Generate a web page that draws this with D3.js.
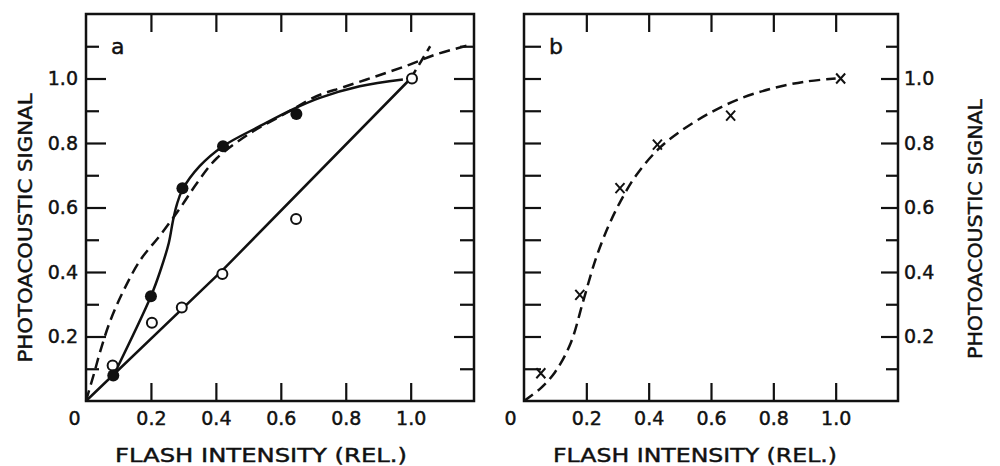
<!DOCTYPE html>
<html>
<head>
<meta charset="utf-8">
<script src="https://cdn.jsdelivr.net/npm/d3@7"></script>
<style>
  body { margin: 0; background: #fff; }
  svg text { font-family: "DejaVu Sans", sans-serif; fill: #111; stroke: #111; stroke-width: 0.45px; }
</style>
</head>
<body>
<div id="chart"></div>
<script>
// panel a - measured points
const filledX = [0.084, 0.2, 0.297, 0.422, 0.648];
const filledY = [0.079, 0.325, 0.66, 0.79, 0.89];
const openX = [0.082, 0.203, 0.295, 0.42, 0.647, 1.004];
const openY = [0.11, 0.243, 0.29, 0.394, 0.564, 1.0];

// panel a - hand drawn curves
const solidCurveA = [[0.085, 0.08], [0.2, 0.325], [0.23, 0.407], [0.255, 0.49], [0.268, 0.56],
    [0.28, 0.61], [0.297, 0.655], [0.35, 0.728], [0.422, 0.79], [0.535, 0.852], [0.638, 0.905],
    [0.72, 0.94], [0.843, 0.976], [0.976, 0.997]];
const straightLineA = [[0, 0], [0.42, 0.405], [1.0, 1.0]];
const straightExtA = [[1.0, 1.0], [1.06, 1.1]];
const dashedCurveA = [[0, 0], [0.025, 0.086], [0.045, 0.158], [0.076, 0.252], [0.117, 0.345],
    [0.168, 0.438], [0.23, 0.516], [0.291, 0.6], [0.342, 0.676], [0.402, 0.752], [0.505, 0.83],
    [0.617, 0.893], [0.71, 0.945], [0.792, 0.973], [0.894, 1.007], [0.997, 1.043], [1.079, 1.075],
    [1.19, 1.106]];

// panel b
const crossX = [0.054, 0.179, 0.308, 0.428, 0.663, 1.016];
const crossY = [0.086, 0.329, 0.66, 0.795, 0.885, 1.0];
const dashedCurveB = [[0, 0], [0.054, 0.04], [0.1, 0.09], [0.15, 0.18], [0.19, 0.31], [0.23, 0.44],
    [0.27, 0.54], [0.31, 0.62], [0.36, 0.7], [0.43, 0.78], [0.5, 0.835], [0.6, 0.895],
    [0.7, 0.94], [0.8, 0.97], [0.9, 0.99], [1.0, 1.0]];

// ticks
const xMajor = [0.2, 0.4, 0.6, 0.8, 1.0];
const xLabels = [0, 0.2, 0.4, 0.6, 0.8, 1.0];
const yMajor = [0.2, 0.4, 0.6, 0.8, 1.0];
const yMinor = [0.1, 0.3, 0.5, 0.7, 0.9, 1.1];

const xTitle = "FLASH INTENSITY (REL.)";
const yTitle = "PHOTOACOUSTIC SIGNAL";

const width = 1000;
const height = 466;
const yTop = 14, yBottom = 401;
const ink = "#111";

const svg = d3.select("#chart")
    .append("svg")
    .attr("width", width)
    .attr("height", height);

const xA = d3.scaleLinear().domain([0, 1.195]).range([86, 474]);
const xB = d3.scaleLinear().domain([0, 1.2]).range([524, 898]);
const y = d3.scaleLinear().domain([0, 1.2]).range([yBottom, yTop]);

const fmt = d => d === 0 ? "0" : d3.format(".1f")(d);

// frame and inward ticks
function drawFrame(x, opt) {
    const [x0, x1] = x.range();
    const g = svg.append("g");

    const ticks = (axis, tr) => {
        const a = g.append("g").attr("transform", tr).call(axis);
        a.select(".domain").remove();
        a.selectAll("line").attr("stroke", ink).attr("stroke-width", 2.2);
    };
    ticks(d3.axisLeft(y).tickValues(yMajor).tickSize(-opt.leftMajor).tickFormat(""), `translate(${x0},0)`);
    ticks(d3.axisLeft(y).tickValues(yMinor).tickSize(-opt.leftMinor).tickFormat(""), `translate(${x0},0)`);
    ticks(d3.axisRight(y).tickValues(yMajor).tickSize(-opt.rightMajor).tickFormat(""), `translate(${x1},0)`);
    ticks(d3.axisRight(y).tickValues(yMinor).tickSize(-opt.rightMinor).tickFormat(""), `translate(${x1},0)`);
    ticks(d3.axisTop(x).tickValues(xMajor).tickSize(-18).tickFormat(""), `translate(0,${yTop})`);
    ticks(d3.axisBottom(x).tickValues(xMajor).tickSize(-18).tickFormat(""), `translate(0,${yBottom})`);

    g.append("rect")
        .attr("x", x0).attr("y", yTop)
        .attr("width", x1 - x0).attr("height", yBottom - yTop)
        .attr("fill", "none").attr("stroke", ink).attr("stroke-width", 2.5);

    // x tick labels
    const xl = g.append("g").attr("transform", `translate(0,${yBottom})`)
        .call(d3.axisBottom(x).tickValues(xLabels).tickSize(0).tickPadding(11).tickFormat(fmt));
    xl.select(".domain").remove();
    xl.selectAll("text").attr("font-size", 19).attr("font-family", "DejaVu Sans").attr("fill", ink)
        .attr("dx", d => d === 0 ? -opt.zeroShift : 0);

    // y tick labels
    const yAxis = opt.labelsRight ? d3.axisRight(y) : d3.axisLeft(y);
    const yl = g.append("g").attr("transform", `translate(${opt.labelsRight ? x1 : x0},0)`)
        .call(yAxis.tickValues(yMajor).tickSize(0).tickPadding(opt.labelsRight ? 6 : 8).tickFormat(fmt));
    yl.select(".domain").remove();
    yl.selectAll("text").attr("font-size", 19).attr("font-family", "DejaVu Sans").attr("fill", ink);

    // titles
    g.append("text")
        .attr("x", opt.xTitleX).attr("y", 462)
        .attr("text-anchor", "middle")
        .attr("font-size", 20)
        .attr("textLength", opt.xTitleLen).attr("lengthAdjust", "spacingAndGlyphs")
        .text(xTitle);
    g.append("text")
        .attr("transform", `translate(${opt.yTitleX},${opt.yTitleY}) rotate(-90)`)
        .attr("text-anchor", "middle")
        .attr("font-size", 20)
        .attr("textLength", opt.yTitleLen).attr("lengthAdjust", "spacingAndGlyphs")
        .text(yTitle);
    g.append("text")
        .attr("x", opt.letterX).attr("y", 54)
        .attr("font-size", 22)
        .text(opt.letter);
}

drawFrame(xA, {
    leftMajor: 20, leftMinor: 13, rightMajor: 20, rightMinor: 14,
    zeroShift: 12, labelsRight: false,
    xTitleX: 261, xTitleLen: 292,
    yTitleX: 32, yTitleY: 228, yTitleLen: 269,
    letterX: 111, letter: "a"
});
drawFrame(xB, {
    leftMajor: 17, leftMinor: 17, rightMajor: 17, rightMinor: 12,
    zeroShift: 14, labelsRight: true,
    xTitleX: 695, xTitleLen: 284,
    yTitleX: 982, yTitleY: 229, yTitleLen: 260,
    letterX: 549, letter: "b"
});

// panel a lines
const lineA = d3.line().x(d => xA(d[0])).y(d => y(d[1])).curve(d3.curveCatmullRom.alpha(0.5));
const lineB = d3.line().x(d => xB(d[0])).y(d => y(d[1])).curve(d3.curveCatmullRom.alpha(0.5));

const plotA = svg.append("g").attr("fill", "none").attr("stroke", ink).attr("stroke-width", 2.5);
plotA.append("path").attr("d", d3.line().x(d => xA(d[0])).y(d => y(d[1]))(straightLineA));
plotA.append("path").attr("d", d3.line().x(d => xA(d[0])).y(d => y(d[1]))(straightExtA))
    .attr("stroke-dasharray", "10,6");
plotA.append("path").attr("d", lineA(solidCurveA));
plotA.append("path").attr("d", lineA(dashedCurveA)).attr("stroke-dasharray", "11,6");

// panel a points
svg.append("g").selectAll("circle.open")
    .data(openX.map((v, i) => [v, openY[i]]))
    .enter().append("circle")
    .attr("cx", d => xA(d[0])).attr("cy", d => y(d[1])).attr("r", 5)
    .attr("fill", "#fff").attr("stroke", ink).attr("stroke-width", 2);

svg.append("g").selectAll("circle.filled")
    .data(filledX.map((v, i) => [v, filledY[i]]))
    .enter().append("circle")
    .attr("cx", d => xA(d[0])).attr("cy", d => y(d[1])).attr("r", 6)
    .attr("fill", ink);

// panel b
svg.append("path").attr("d", lineB(dashedCurveB))
    .attr("fill", "none").attr("stroke", ink).attr("stroke-width", 2.5)
    .attr("stroke-dasharray", "11,6");

svg.append("g").selectAll("path.cross")
    .data(crossX.map((v, i) => [v, crossY[i]]))
    .enter().append("path")
    .attr("transform", d => `translate(${xB(d[0])},${y(d[1])})`)
    .attr("d", "M-4.5,-5L4.5,5M4.5,-5L-4.5,5")
    .attr("stroke", ink).attr("stroke-width", 2);
</script>
</body>
</html>
